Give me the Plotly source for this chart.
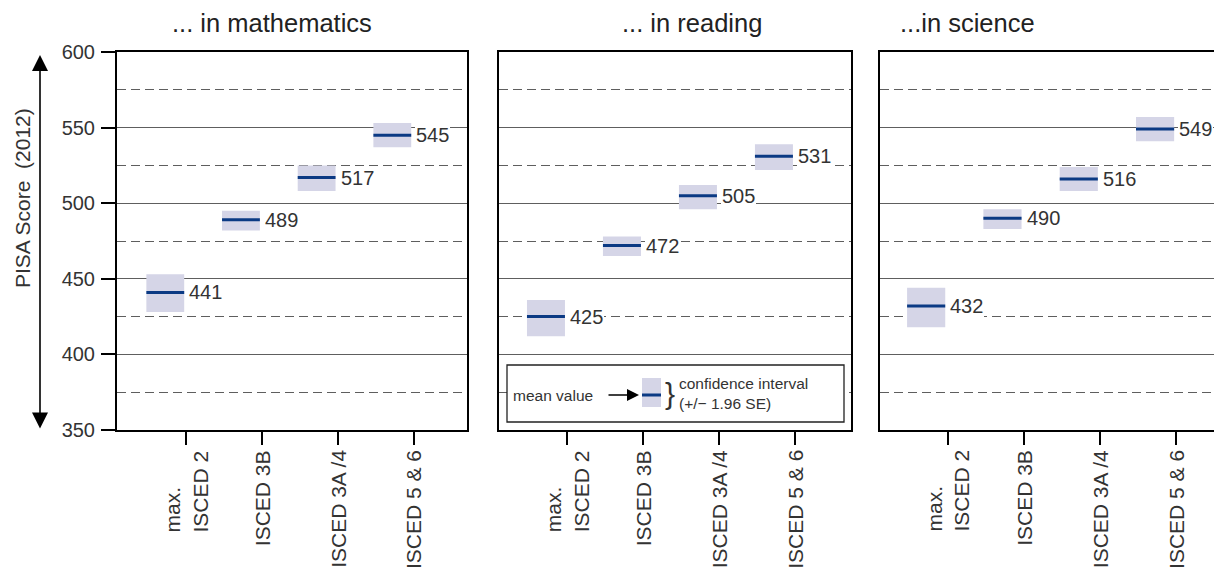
import plotly.graph_objects as go

# ---------------- data ----------------
levels = ["max.<br>ISCED 2", "ISCED 3B", "ISCED 3A /4", "ISCED 5 & 6"]
subjects = ["... in mathematics", "... in reading", "...in science"]

math_mean = [441, 489, 517, 545]
math_lo = [428, 482, 508, 537]
math_hi = [453, 495, 525, 553]

read_mean = [425, 472, 505, 531]
read_lo = [412, 465, 496, 522]
read_hi = [436, 478, 512, 539]

sci_mean = [432, 490, 516, 549]
sci_lo = [418, 483, 508, 541]
sci_hi = [444, 496, 524, 557]

y_ticks = [350, 400, 450, 500, 550, 600]
y_dashed = [375, 425, 475, 525, 575]
y_title = "PISA Score \u00a0(2012)"
legend_mean = "mean value"
legend_ci = "confidence interval<br>(+/− 1.96 SE)"

# ---------------- style ----------------
OFF = 8                      # page body margin
W, H = 1222 - OFF, 570 - OFF
ML, MR, MT = 117 - OFF, 0, 52 - OFF
MB = H - (430 - OFF)
PW, PH = W - ML - MR, H - MT - MB
BOX_FILL = "#d5d5e7"
MEAN_COL = "#0b3a84"
TXT = "#333333"
FONT = "Liberation Sans, Arial, sans-serif"
GRID = "#5e5e5e"


def px(x):
    """page pixel x -> paper x"""
    return (x - OFF - ML) / PW


def py(y):
    """page pixel y -> paper y"""
    return (H - MB - (y - OFF)) / PH


domains = [[px(117), px(467)], [px(499), px(851)], [px(880), 1.0]]
xranges = [[-0.918, 3.707], [-0.898, 3.734], [-0.885, 3.597]]
title_x = [272, 692, 967]
box_off, box_w = -0.53, 0.5

series = [(math_mean, math_lo, math_hi), (read_mean, read_lo, read_hi),
          (sci_mean, sci_lo, sci_hi)]

fig = go.Figure()
annotations = []
xs = list(range(len(levels)))

for k, (mean, lo, hi) in enumerate(series):
    n = "" if k == 0 else str(k + 1)
    # confidence interval boxes
    fig.add_trace(go.Bar(
        x=xs, base=lo, y=[h - l for h, l in zip(hi, lo)],
        width=box_w, offset=box_off,
        marker=dict(color=BOX_FILL, line=dict(width=0)),
        xaxis="x" + n, yaxis="y" + n, showlegend=False, hoverinfo="skip"))
    # mean lines
    lx, ly = [], []
    for i, m in zip(xs, mean):
        lx += [i + box_off, i + box_off + box_w, None]
        ly += [m, m, None]
    fig.add_trace(go.Scatter(
        x=lx, y=ly, mode="lines", line=dict(color=MEAN_COL, width=3),
        xaxis="x" + n, yaxis="y" + n, showlegend=False, hoverinfo="skip"))
    # value labels
    for i, m in zip(xs, mean):
        annotations.append(dict(
            x=i + box_off + box_w, y=m, xref="x" + n, yref="y" + n,
            text=str(m), showarrow=False, xanchor="left", yanchor="middle",
            xshift=4, bgcolor="white", borderpad=1, borderwidth=0,
            font=dict(size=20, color=TXT, family=FONT)))
    # category labels (rotated, left aligned lines)
    for i, lab in zip(xs, levels):
        annotations.append(dict(
            x=i, y=py(450), xref="x" + n, yref="paper", text=lab,
            textangle=-90, align="left", showarrow=False,
            xanchor="center", yanchor="top", borderpad=0, borderwidth=0,
            font=dict(size=21, color=TXT, family=FONT)))
    # panel titles
    annotations.append(dict(
        x=px(title_x[k]), y=py(23), xref="paper", yref="paper",
        text=subjects[k], showarrow=False, xanchor="center", yanchor="middle",
        font=dict(size=25.5, color="#222222", family=FONT)))

    xa = dict(domain=domains[k], range=xranges[k], anchor="y" + n,
              tickmode="array", tickvals=xs, ticktext=levels,
              showticklabels=False,
              ticks="outside", ticklen=13, tickwidth=1.6, tickcolor="black",
              showline=True, mirror=True, linecolor="black", linewidth=2,
              showgrid=False, zeroline=False, fixedrange=True)
    ya = dict(domain=[0, 1], range=[350, 600], anchor="x" + n,
              tickmode="array", tickvals=y_ticks,
              showgrid=True, gridcolor=GRID, gridwidth=1.3,
              minor=dict(tickvals=y_dashed, showgrid=True, gridcolor=GRID,
                         gridwidth=1.3, griddash="9px,5px", ticks=""),
              showline=True, mirror=(k < 2), linecolor="black", linewidth=2,
              zeroline=False, fixedrange=True)
    if k == 0:
        ya.update(ticks="outside", ticklen=14, tickwidth=1.6,
                  tickcolor="black", showticklabels=True,
                  ticklabelstandoff=2,
                  tickfont=dict(size=20, color=TXT, family=FONT))
    else:
        ya.update(ticks="", showticklabels=False)
    fig.layout["xaxis" + n] = xa
    fig.layout["yaxis" + n] = ya

# y title and double arrow
annotations.append(dict(
    x=px(22), y=py(198), xref="paper", yref="paper", text=y_title,
    textangle=-90, showarrow=False, xanchor="center", yanchor="middle",
    font=dict(size=21, color=TXT, family=FONT)))
annotations.append(dict(
    x=px(40), y=py(55), xref="paper", yref="paper", text="",
    showarrow=True, ax=0, ay=375, axref="pixel", ayref="pixel",
    arrowside="end+start", arrowhead=2, arrowsize=2.0, arrowwidth=1.6,
    arrowcolor="black"))

# legend inside reading panel
shapes = [
    dict(type="rect", xref="paper", yref="paper", x0=px(507), x1=px(844),
         y0=py(422), y1=py(365), line=dict(color="#222222", width=1.3),
         fillcolor="white", layer="above"),
    dict(type="rect", xref="paper", yref="paper", x0=px(642), x1=px(661),
         y0=py(407), y1=py(378), line=dict(width=0), fillcolor=BOX_FILL,
         layer="above"),
    dict(type="line", xref="paper", yref="paper", x0=px(642), x1=px(661),
         y0=py(395), y1=py(395), line=dict(color=MEAN_COL, width=3),
         layer="above"),
]
annotations += [
    dict(x=px(511), y=py(395), xref="paper", yref="paper", text=legend_mean,
         showarrow=False, xanchor="left", yanchor="middle",
         font=dict(size=15.5, color=TXT, family=FONT)),
    dict(x=px(639), y=py(395), xref="paper", yref="paper", text="",
         showarrow=True, ax=-32, ay=0, axref="pixel", ayref="pixel",
         arrowhead=2, arrowsize=1.6, arrowwidth=1.5, arrowcolor="black"),
    dict(x=px(670), y=py(393), xref="paper", yref="paper", text="}",
         showarrow=False, xanchor="center", yanchor="middle",
         font=dict(size=30, color=TXT, family=FONT)),
    dict(x=px(677), y=py(393), xref="paper", yref="paper", text=legend_ci,
         showarrow=False, xanchor="left", yanchor="middle", align="left",
         font=dict(size=15.5, color=TXT, family=FONT)),
]

fig.update_layout(
    width=W, height=H, margin=dict(l=ML, r=MR, t=MT, b=MB, pad=0),
    paper_bgcolor="white", plot_bgcolor="white", showlegend=False,
    barmode="overlay", annotations=annotations, shapes=shapes,
    font=dict(family=FONT, color=TXT))

fig.write_html("out.html")
